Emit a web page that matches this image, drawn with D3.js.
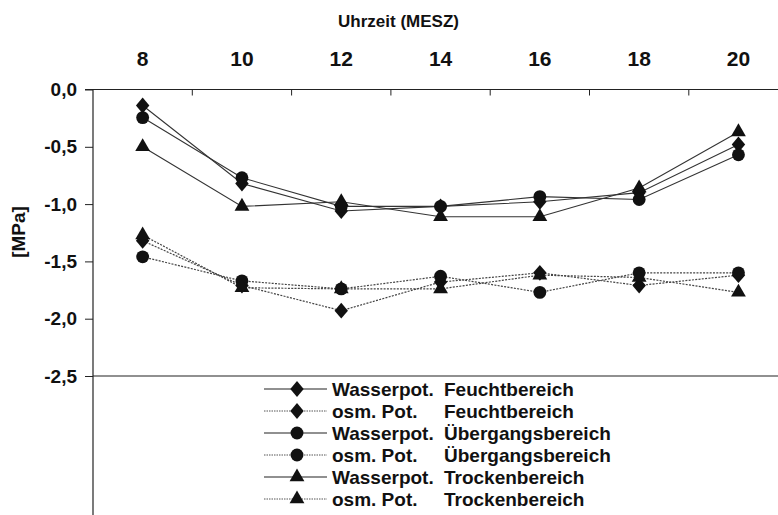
<!DOCTYPE html>
<html>
<head>
<meta charset="utf-8">
<script src="https://cdn.jsdelivr.net/npm/d3@7"></script>
<style>
body { margin: 0; background: #fff; }
text { font-family: "Liberation Sans", Arial, sans-serif; fill: #111; }
</style>
</head>
<body>
<div id="container"></div>
<script>
var svgWidth = 778;
var svgHeight = 515;

// data
var hours = [8, 10, 12, 14, 16, 18, 20];
var yTicks = [0, -0.5, -1.0, -1.5, -2.0, -2.5];

var wasserFeucht = [-0.14, -0.82, -1.06, -1.02, -0.98, -0.90, -0.48];
var osmFeucht = [-1.32, -1.71, -1.93, -1.68, -1.60, -1.71, -1.62];
var wasserUebergang = [-0.245, -0.77, -1.02, -1.02, -0.935, -0.96, -0.57];
var osmUebergang = [-1.46, -1.67, -1.74, -1.63, -1.77, -1.60, -1.60];
var wasserTrocken = [-0.50, -1.02, -0.98, -1.11, -1.11, -0.86, -0.37];
var osmTrocken = [-1.27, -1.73, -1.74, -1.74, -1.62, -1.64, -1.77];

var seriesNames = [
    ["Wasserpot.", "Feuchtbereich"],
    ["osm. Pot.", "Feuchtbereich"],
    ["Wasserpot.", "Übergangsbereich"],
    ["osm. Pot.", "Übergangsbereich"],
    ["Wasserpot.", "Trockenbereich"],
    ["osm. Pot.", "Trockenbereich"]
];

var DIAMOND = 'diamond', CIRCLE = 'circle', TRIANGLE = 'triangle';

var series = [
    {values: wasserFeucht, marker: DIAMOND, dotted: false},
    {values: osmFeucht, marker: DIAMOND, dotted: true},
    {values: wasserUebergang, marker: CIRCLE, dotted: false},
    {values: osmUebergang, marker: CIRCLE, dotted: true},
    {values: wasserTrocken, marker: TRIANGLE, dotted: false},
    {values: osmTrocken, marker: TRIANGLE, dotted: true}
];

var plotLeft = 93;
var plotTop = 89.5;

var svg = d3.select('#container').append('svg')
    .attr("width", svgWidth)
    .attr("height", svgHeight);

var x = d3.scaleBand()
    .domain(hours)
    .range([plotLeft, plotLeft + 7 * 99.3]);

var y = d3.scaleLinear()
    .domain([0, -2.5])
    .range([plotTop, 376]);

var deFormat = d3.formatLocale({
    decimal: ",", thousands: ".", grouping: [3], currency: ["", " €"], minus: "-"
}).format(".1f");

function cx(i) {
    return x(hours[i]) + x.bandwidth() / 2;
}

var diamondType = {
    draw: function (context, size) {
        var r = Math.sqrt(size / 2);
        context.moveTo(0, -r * 1.12);
        context.lineTo(r * 0.95, 0);
        context.lineTo(0, r * 1.12);
        context.lineTo(-r * 0.95, 0);
        context.closePath();
    }
};

function markerPath(type) {
    if (type == DIAMOND) return d3.symbol().type(diamondType).size(100)();
    if (type == CIRCLE) return d3.symbol().type(d3.symbolCircle).size(130)();
    return d3.symbol().type(d3.symbolTriangle).size(95)();
}

// top axis with labels
var xAxis = svg.append('g')
    .attr("transform", "translate(0," + plotTop + ")")
    .call(d3.axisTop(x).tickSize(0).tickPadding(23.5));
xAxis.select('.domain').remove();
xAxis.selectAll('text')
    .style("font-size", "21px")
    .style("font-weight", "bold")
    .attr("fill", "#111");

svg.append('line')
    .attr("x1", plotLeft - 8).attr("x2", svgWidth)
    .attr("y1", plotTop).attr("y2", plotTop)
    .style("stroke", "#222").style("stroke-width", 1.2);

// category boundary ticks pointing down
svg.append('g').selectAll('line')
    .data(hours.slice(1))
    .enter().append('line')
    .attr("x1", function (h) { return x(h); })
    .attr("x2", function (h) { return x(h); })
    .attr("y1", plotTop)
    .attr("y2", plotTop + 6)
    .style("stroke", "#222");

svg.append('text')
    .attr("x", 398.5)
    .attr("y", 27)
    .attr("text-anchor", "middle")
    .style("font-size", "17px")
    .style("font-weight", "bold")
    .text("Uhrzeit (MESZ)");

// left axis
var yAxis = svg.append('g')
    .attr("transform", "translate(" + plotLeft + ",0)")
    .call(d3.axisLeft(y).tickValues(yTicks).tickSize(8).tickPadding(8).tickFormat(deFormat));
yAxis.select('.domain').remove();
yAxis.selectAll('line').style("stroke", "#222");
yAxis.selectAll('text')
    .style("font-size", "19px")
    .style("font-weight", "bold")
    .attr("fill", "#111");

svg.append('line')
    .attr("x1", plotLeft).attr("x2", plotLeft)
    .attr("y1", plotTop).attr("y2", svgHeight)
    .style("stroke", "#222").style("stroke-width", 1.2);

svg.append('line')
    .attr("x1", plotLeft).attr("x2", svgWidth)
    .attr("y1", y(-2.5)).attr("y2", y(-2.5))
    .style("stroke", "#222").style("stroke-width", 1.2);

svg.append('text')
    .attr("transform", "translate(25," + 232 + ") rotate(-90)")
    .attr("text-anchor", "middle")
    .style("font-size", "19px")
    .style("font-weight", "bold")
    .text("[MPa]");

// series lines
var line = d3.line()
    .x(function (d, i) { return cx(i); })
    .y(function (d) { return y(d); });

var plot = svg.append('g');

series.forEach(function (s) {
    plot.append('path')
        .attr("d", line(s.values))
        .style("fill", "none")
        .style("stroke", s.dotted ? "#444" : "#333")
        .style("stroke-width", s.dotted ? 1.2 : 1.1)
        .style("stroke-dasharray", s.dotted ? "2,1.3" : null);
});

series.forEach(function (s) {
    plot.selectAll(null)
        .data(s.values)
        .enter().append('path')
        .attr("d", markerPath(s.marker))
        .attr("transform", function (d, i) {
            return "translate(" + cx(i) + "," + y(d) + ")";
        })
        .style("fill", "#111");
});

// legend
var legendTop = 389;
var legendStep = 22;

var legend = svg.append('g').selectAll('g')
    .data(series)
    .enter().append('g')
    .attr("transform", function (s, i) {
        return "translate(0," + (legendTop + i * legendStep) + ")";
    });

legend.append('line')
    .attr("x1", 264).attr("x2", 327)
    .attr("y1", 0).attr("y2", 0)
    .style("stroke", function (s) { return s.dotted ? "#555" : "#222"; })
    .style("stroke-width", function (s) { return s.dotted ? 1 : 1.2; })
    .style("stroke-dasharray", function (s) { return s.dotted ? "1.5,1" : null; });

legend.append('path')
    .attr("d", function (s) { return markerPath(s.marker); })
    .attr("transform", "translate(297,0)")
    .style("fill", "#111");

legend.append('text')
    .attr("x", 332)
    .attr("y", 6.5)
    .style("font-size", "19px")
    .style("font-weight", "bold")
    .text(function (s, i) { return seriesNames[i][0]; });

legend.append('text')
    .attr("x", 444)
    .attr("y", 6.5)
    .style("font-size", "19px")
    .style("font-weight", "bold")
    .text(function (s, i) { return seriesNames[i][1]; });
</script>
</body>
</html>
